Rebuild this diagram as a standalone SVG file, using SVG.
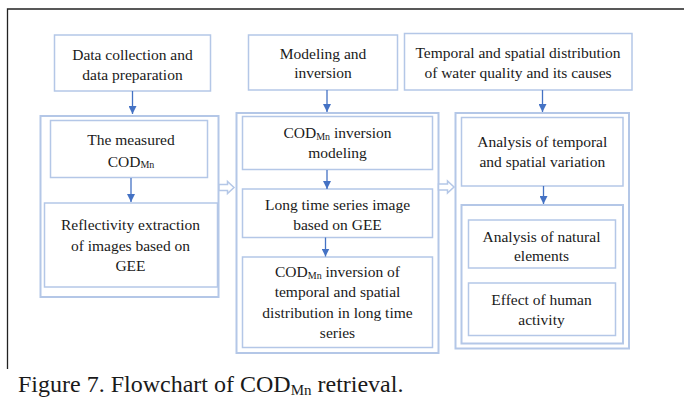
<svg xmlns="http://www.w3.org/2000/svg" width="684" height="398" viewBox="0 0 684 398">
  <style>
    .box { fill: #ffffff; stroke: #b4c7e7; stroke-width: 1.5; }
    .frame { fill: none; stroke: #b4c7e7; stroke-width: 2; }
    .txt { font-family: "Liberation Serif", "Times New Roman", serif; font-size: 15.5px; fill: #1a1a1a; text-anchor: middle; }
    .sub { font-size: 10px; }
    .link { stroke: #4472c4; stroke-width: 1.3; fill: none; marker-end: url(#tip); }
    .hollow { fill: #ffffff; stroke: #b4c7e7; stroke-width: 1.5; }
    .cap { font-family: "Liberation Serif", "Times New Roman", serif; font-size: 24px; fill: #1a1a1a; }
  </style>
  <defs>
    <marker id="tip" viewBox="0 0 10 10" refX="10" refY="5" markerUnits="userSpaceOnUse" markerWidth="8" markerHeight="8" orient="auto">
      <path d="M0,0 L10,5 L0,10 Z" fill="#4472c4"/>
    </marker>
  </defs>

  <rect width="684" height="398" fill="#ffffff"/>
  <!-- page frame -->
  <path d="M7.5,369 V9 H684" fill="none" stroke="#222222" stroke-width="1.3"/>

  <!-- column containers -->
  <g id="container1"><rect class="frame" x="40.5" y="116" width="178" height="181"/></g>
  <g id="container2"><rect class="frame" x="236.5" y="113" width="202" height="240"/></g>
  <g id="container3"><rect class="frame" x="455.5" y="113" width="173.5" height="235.5"/></g>
  <g id="container3b"><rect class="frame" x="461.5" y="205" width="161.5" height="138.5"/></g>

  <!-- column 1 -->
  <g id="n1">
    <rect class="box" x="54.5" y="35" width="156" height="56"/>
    <text class="txt" x="132.5" y="59.5">Data collection and</text>
    <text class="txt" x="132.5" y="80">data preparation</text>
  </g>
  <g id="n2">
    <rect class="box" x="50.5" y="120.5" width="157" height="57"/>
    <text class="txt" x="131" y="145">The measured</text>
    <text class="txt" x="131" y="166.5">COD<tspan class="sub" dy="1.5">Mn</tspan></text>
  </g>
  <g id="n3">
    <rect class="box" x="44.5" y="203" width="173" height="84"/>
    <text class="txt" x="130.5" y="230">Reflectivity extraction</text>
    <text class="txt" x="130.5" y="250.5">of images based on</text>
    <text class="txt" x="130.5" y="271">GEE</text>
  </g>

  <!-- column 2 -->
  <g id="n4">
    <rect class="box" x="248.5" y="35" width="149" height="55"/>
    <text class="txt" x="323" y="58.5">Modeling and</text>
    <text class="txt" x="323" y="78">inversion</text>
  </g>
  <g id="n5">
    <rect class="box" x="242.5" y="116.5" width="190" height="53"/>
    <text class="txt" x="337.5" y="138">COD<tspan class="sub" dy="1.5">Mn</tspan><tspan dy="-1.5"> inversion</tspan></text>
    <text class="txt" x="337.5" y="158">modeling</text>
  </g>
  <g id="n6">
    <rect class="box" x="242.5" y="189" width="190" height="48.5"/>
    <text class="txt" x="337.5" y="209.5">Long time series image</text>
    <text class="txt" x="337.5" y="229.5">based on GEE</text>
  </g>
  <g id="n7">
    <rect class="box" x="242.5" y="257" width="190" height="90.5"/>
    <text class="txt" x="337.5" y="277">COD<tspan class="sub" dy="1.5">Mn</tspan><tspan dy="-1.5"> inversion of</tspan></text>
    <text class="txt" x="337.5" y="297">temporal and spatial</text>
    <text class="txt" x="337.5" y="317.5">distribution in long time</text>
    <text class="txt" x="337.5" y="337.5">series</text>
  </g>

  <!-- column 3 -->
  <g id="n8">
    <rect class="box" x="404.5" y="33.5" width="227.5" height="56.5"/>
    <text class="txt" x="518" y="58">Temporal and spatial distribution</text>
    <text class="txt" x="518" y="77.5">of water quality and its causes</text>
  </g>
  <g id="n9">
    <rect class="box" x="461.5" y="117.5" width="161.5" height="68.5"/>
    <text class="txt" x="542.3" y="147">Analysis of temporal</text>
    <text class="txt" x="542.3" y="167">and spatial variation</text>
  </g>
  <g id="n10">
    <rect class="box" x="468.5" y="220" width="147" height="48"/>
    <text class="txt" x="541.5" y="241.5">Analysis of natural</text>
    <text class="txt" x="541.5" y="261">elements</text>
  </g>
  <g id="n11">
    <rect class="box" x="468.5" y="283" width="147" height="52.5"/>
    <text class="txt" x="541.5" y="304.5">Effect of human</text>
    <text class="txt" x="541.5" y="324.5">activity</text>
  </g>

  <!-- connectors -->
  <g id="connectors">
    <line class="link" x1="132.5" y1="91" x2="132.5" y2="114"/>
    <line class="link" x1="131" y1="178" x2="131" y2="202"/>
    <line class="link" x1="327" y1="90" x2="327" y2="112"/>
    <line class="link" x1="327" y1="170" x2="327" y2="189"/>
    <line class="link" x1="325.5" y1="237.5" x2="325.5" y2="256.5"/>
    <line class="link" x1="542.5" y1="90" x2="542.5" y2="112"/>
    <line class="link" x1="543.5" y1="186" x2="543.5" y2="204"/>
    <path class="hollow" d="M219,184.5 H227.5 V181.5 L234,187.5 L227.5,193.5 V190.5 H219 Z"/>
    <path class="hollow" d="M438.5,184 H447.5 V181 L454,187 L447.5,193 V190 H438.5 Z"/>
  </g>

  <!-- caption -->
  <text class="cap" x="18" y="391.5">Figure 7. Flowchart of COD<tspan font-size="15px" dy="3.5">Mn</tspan><tspan dy="-3.5"> retrieval.</tspan></text>
</svg>
